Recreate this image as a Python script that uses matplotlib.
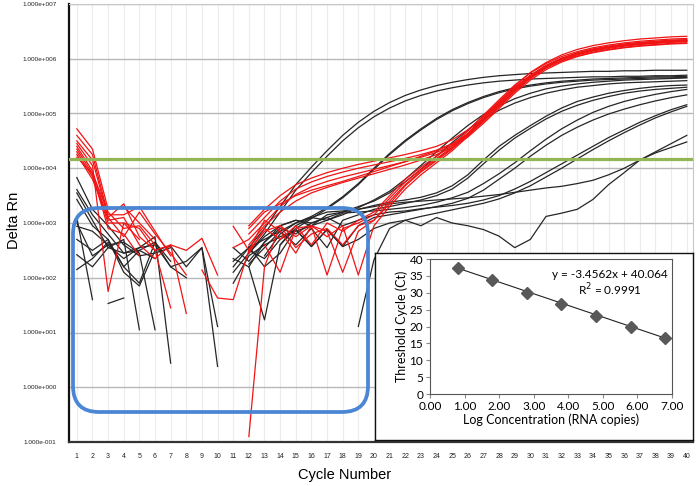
import numpy as np
import matplotlib
matplotlib.use('Agg')
import matplotlib.pyplot as plt
from matplotlib.patches import FancyBboxPatch
from matplotlib.transforms import IdentityTransform

nan = np.nan
cycles = list(range(1, 41))

# log10(Delta Rn) per cycle -- black: standards, red: samples
black_curves = [
    [3.83, 3.25, 2.95, 2.60, 2.40, 2.45, 2.55, nan, nan, nan,
     2.20, 2.55, 2.90, 3.30, 3.70, 4.02, 4.32, 4.60, 4.84, 5.04,
     5.20, 5.33, 5.43, 5.51, 5.57, 5.62, 5.66, 5.69, 5.71, 5.73,
     5.74, 5.75, 5.76, 5.77, 5.77, 5.78, 5.78, 5.79, 5.79, 5.79],
    [3.61, 3.15, 2.80, 2.45, 2.50, 2.35, nan, nan, nan, nan,
     2.10, 2.45, 2.80, 3.20, 3.60, 3.92, 4.22, 4.50, 4.74, 4.94,
     5.10, 5.23, 5.33, 5.41, 5.47, 5.52, 5.56, 5.59, 5.61, 5.63,
     5.64, 5.65, 5.66, 5.67, 5.67, 5.68, 5.68, 5.69, 5.69, 5.70],
    [3.55, 3.05, 2.55, 2.70, 1.05, nan, nan, nan, nan, nan,
     2.30, 2.55, 2.70, 2.85, 3.00, 3.12, 3.28, 3.48, 3.72, 4.00,
     4.27, 4.51, 4.72, 4.91, 5.07, 5.20, 5.31, 5.40, 5.47, 5.52,
     5.56, 5.59, 5.61, 5.63, 5.64, 5.65, 5.66, 5.67, 5.67, 5.68],
    [3.43, 2.95, 2.70, 2.20, 2.50, 2.65, 2.20, 2.00, nan, nan,
     nan, 2.20, 1.23, 2.60, 2.90, 3.08, 3.26, 3.46, 3.70, 3.98,
     4.25, 4.49, 4.70, 4.89, 5.05, 5.18, 5.29, 5.38, 5.45, 5.50,
     5.54, 5.57, 5.59, 5.61, 5.62, 5.63, 5.64, 5.65, 5.65, 5.66],
    [3.00, 2.40, 2.60, 2.65, 2.45, 1.05, nan, nan, nan, nan,
     1.90, 2.40, 2.60, 2.75, 2.85, 2.95, 3.05, 3.15, 3.28, 3.42,
     3.58, 3.80, 4.05, 4.30, 4.55, 4.78, 4.98, 5.14, 5.27, 5.37,
     5.45, 5.50, 5.54, 5.57, 5.59, 5.61, 5.62, 5.63, 5.64, 5.65],
    [2.94, 2.85, 2.60, 2.35, 2.55, 2.75, 0.44, nan, nan, nan,
     2.35, 2.20, 2.65, 2.90, 2.80, 3.00, 3.10, 3.20, 3.30, 3.40,
     3.55, 3.75, 3.98, 4.22, 4.47, 4.70, 4.90, 5.06, 5.19, 5.29,
     5.37, 5.43, 5.48, 5.51, 5.54, 5.56, 5.57, 5.58, 5.59, 5.60],
    [2.70, 2.50, 2.70, 2.10, 1.85, 2.50, 2.58, 2.20, 2.55, 1.11,
     nan, 2.45, 2.75, 2.95, 3.05, 2.95, 3.15, 3.20, 3.25, 3.32,
     3.38, 3.42, 3.47, 3.55, 3.68, 3.88, 4.15, 4.40, 4.60, 4.78,
     4.95, 5.10, 5.22, 5.30, 5.37, 5.42, 5.46, 5.49, 5.51, 5.52],
    [2.42, 2.20, 2.55, 2.45, 2.55, 2.60, 2.20, 2.30, 2.55, 0.38,
     nan, 2.25, 2.55, 2.85, 2.60, 2.90, 2.55, 3.05, 3.15, 3.25,
     3.30, 3.36, 3.42, 3.50, 3.62, 3.82, 4.08, 4.33, 4.55, 4.73,
     4.90, 5.04, 5.15, 5.24, 5.31, 5.37, 5.41, 5.44, 5.46, 5.48],
    [2.15, 2.35, 2.65, 2.20, 1.90, 2.65, 2.30, nan, nan, nan,
     nan, 2.50, 2.35, 2.70, 2.88, 2.57, 2.88, 2.57, 2.95, 3.10,
     3.15, 3.20, 3.25, 3.30, 3.36, 3.45, 3.60, 3.80, 4.00, 4.22,
     4.42, 4.60, 4.75, 4.88, 4.99, 5.08, 5.16, 5.23, 5.29, 5.34],
    [3.10, 1.60, nan, nan, nan, nan, nan, nan, nan, nan,
     nan, nan, 2.40, 2.80, 3.00, 3.10, 3.05, 3.18, 3.20, 3.22,
     3.25, 3.28, 3.32, 3.38, 3.46, 3.56, 3.72, 3.90, 4.10, 4.32,
     4.53, 4.72, 4.88, 5.02, 5.13, 5.22, 5.29, 5.35, 5.40, 5.44],
    [nan, nan, 1.53, 1.63, nan, nan, nan, nan, nan, nan,
     2.55, 2.30, 2.65, 2.95, 3.05, 3.00, 3.10, 2.95, 3.05, 3.15,
     3.20, 3.22, 3.26, 3.29, 3.32, 3.36, 3.42, 3.50, 3.62, 3.76,
     3.92, 4.08, 4.24, 4.40, 4.56, 4.70, 4.84, 4.96, 5.07, 5.16],
    [nan, nan, nan, nan, nan, nan, nan, nan, nan, nan,
     nan, 2.57, 2.20, 2.45, 2.88, 2.57, 2.88, 2.57, 2.70, 2.90,
     3.00, 3.05, 3.12, 3.18, 3.24, 3.30, 3.36, 3.44, 3.55, 3.68,
     3.84, 4.00, 4.17, 4.34, 4.50, 4.65, 4.79, 4.92, 5.03, 5.13],
    [nan, nan, nan, nan, nan, nan, nan, nan, nan, nan,
     nan, nan, nan, 2.60, 2.95, 3.10, 3.20, 3.22, 3.25, 3.30,
     3.35, 3.38, 3.40, 3.42, 3.44, 3.46, 3.49, 3.52, 3.56, 3.60,
     3.64, 3.67, 3.72, 3.78, 3.88, 4.00, 4.15, 4.30, 4.45, 4.60],
    [nan, nan, nan, nan, nan, nan, nan, nan, nan, nan,
     nan, nan, nan, nan, nan, nan, nan, nan, 1.11, 2.33,
     2.90, 3.05, 2.95, 3.10, 3.00, 2.95, 2.88, 2.76, 2.55, 2.70,
     3.12, 3.18, 3.25, 3.43, 3.70, 3.92, 4.15, 4.28, 4.38, 4.48],
]

red_curves = [
    [4.72, 4.35, 3.25, 3.30, 3.00, 2.70, nan, nan, nan, nan,
     nan, 2.95, 3.25, 3.50, 3.70, 3.82, 3.92, 4.00, 4.07, 4.13,
     4.19, 4.25, 4.32, 4.40, 4.52, 4.70, 4.95, 5.22, 5.50, 5.75,
     5.93, 6.07, 6.17, 6.24, 6.29, 6.33, 6.36, 6.38, 6.40, 6.41],
    [4.60, 4.25, 3.15, 3.15, 3.30, 2.85, 2.40, nan, nan, nan,
     nan, 2.80, 3.10, 3.40, 3.62, 3.75, 3.85, 3.93, 4.00, 4.06,
     4.12, 4.18, 4.25, 4.33, 4.45, 4.63, 4.88, 5.15, 5.43, 5.68,
     5.87, 6.01, 6.11, 6.18, 6.23, 6.27, 6.30, 6.32, 6.34, 6.35],
    [4.50, 4.15, 3.10, 2.75, 3.20, 2.80, 2.45, 2.05, nan, nan,
     2.55, 2.70, 3.00, 3.30, 3.52, 3.66, 3.76, 3.84, 3.91, 3.98,
     4.05, 4.12, 4.20, 4.29, 4.41, 4.60, 4.85, 5.12, 5.40, 5.64,
     5.83, 5.97, 6.07, 6.14, 6.19, 6.23, 6.26, 6.28, 6.30, 6.31],
    [4.45, 4.05, 1.75, 3.00, 2.90, 2.50, 1.45, nan, nan, nan,
     nan, 2.60, 2.95, 3.20, 3.40, 3.55, 3.65, 3.74, 3.82, 3.90,
     3.98, 4.06, 4.15, 4.25, 4.38, 4.57, 4.82, 5.09, 5.37, 5.61,
     5.80, 5.94, 6.04, 6.11, 6.16, 6.20, 6.23, 6.25, 6.27, 6.28],
    [4.40, 3.95, 3.05, 3.10, 2.60, 2.35, 2.60, 1.35, nan, nan,
     nan, 2.90, 3.20, 3.35, 3.50, 3.60, 3.68, 3.76, 3.85, 3.94,
     4.03, 4.12, 4.22, 4.32, 4.44, 4.62, 4.86, 5.13, 5.41, 5.66,
     5.85, 5.99, 6.09, 6.16, 6.21, 6.25, 6.28, 6.30, 6.32, 6.33],
    [4.35, 3.90, 3.20, 2.90, 2.95, 2.60, nan, nan, nan, nan,
     nan, 2.45, 2.90, 2.70, 2.95, 2.60, 3.00, 2.85, 3.05, 3.20,
     3.50, 3.80, 4.02, 4.22, 4.42, 4.68, 4.97, 5.25, 5.52, 5.74,
     5.91, 6.04, 6.13, 6.20, 6.25, 6.29, 6.32, 6.34, 6.36, 6.37],
    [4.30, 3.85, 3.00, 3.00, 2.70, nan, nan, nan, nan, nan,
     nan, -0.90, 2.20, 2.95, 2.75, 2.95, 2.05, 2.90, 3.00, 3.15,
     3.45, 3.75, 3.98, 4.18, 4.38, 4.64, 4.93, 5.21, 5.48, 5.70,
     5.88, 6.01, 6.10, 6.17, 6.22, 6.26, 6.29, 6.31, 6.33, 6.34],
    [4.25, 3.80, 3.10, 3.35, 2.75, 2.50, 2.60, 2.50, 2.72, 2.05,
     nan, nan, 2.60, 2.10, 2.90, 2.95, 2.85, 2.10, 2.85, 3.05,
     3.35, 3.68, 3.93, 4.14, 4.35, 4.61, 4.90, 5.18, 5.45, 5.68,
     5.86, 5.99, 6.08, 6.15, 6.20, 6.24, 6.27, 6.29, 6.31, 6.32],
    [4.20, 3.90, 2.90, 2.80, 2.40, nan, nan, nan, nan, nan,
     2.94, 2.50, 3.05, 2.85, 2.45, 2.95, 2.75, 2.95, 2.05, 2.95,
     3.30, 3.62, 3.88, 4.10, 4.32, 4.58, 4.87, 5.15, 5.42, 5.65,
     5.83, 5.96, 6.05, 6.12, 6.17, 6.21, 6.24, 6.26, 6.28, 6.29],
    [nan, nan, nan, nan, nan, nan, nan, nan, 2.14, 1.63,
     1.60, 2.50, 2.85, 2.95, 2.55, 2.80, 2.90, 2.60, 2.95, 3.05,
     3.40, 3.70, 3.95, 4.16, 4.37, 4.62, 4.91, 5.19, 5.46, 5.69,
     5.87, 6.00, 6.09, 6.16, 6.21, 6.25, 6.28, 6.30, 6.32, 6.33],
]

threshold = 1.5e4
y_ticks = [1e-1, 1e0, 1e1, 1e2, 1e3, 1e4, 1e5, 1e6, 1e7]
y_tick_labels = ['1.000e-001', '1.000e+000', '1.000e+001', '1.000e+002',
                 '1.000e+003', '1.000e+004', '1.000e+005', '1.000e+006',
                 '1.000e+007']

# standard curve
log_conc = [0.8, 1.8, 2.8, 3.8, 4.8, 5.8, 6.8]
ct_values = [37.3, 33.7, 30.0, 26.8, 23.2, 20.0, 16.5]
slope, intercept = -3.4562, 40.064
r_squared = 0.9991

W, H = 696, 486
fig = plt.figure(figsize=(W / 100, H / 100), dpi=100)
plt.rcParams['font.family'] = ['Liberation Sans', 'DejaVu Sans']

ax = fig.add_axes([69 / W, 44 / H, 624 / W, 438 / H])
for vals in black_curves:
    ax.plot(cycles, 10 ** np.array(vals), color='#262626', lw=0.9, zorder=2)
for vals in red_curves:
    ax.plot(cycles, 10 ** np.array(vals), color='#f01414', lw=0.9, zorder=3)
ax.axhline(threshold, color='#92b556', lw=2.3, zorder=4)

ax.set_yscale('log')
ax.set_ylim(1e-1, 1e7)
ax.set_xlim(0.5, 40.4)
ax.set_yticks(y_ticks)
ax.set_yticklabels(y_tick_labels)
ax.minorticks_off()
ax.set_xticks(cycles)
ax.tick_params(axis='both', length=0, labelsize=5.0, colors='#222222')
ax.tick_params(axis='y', labelsize=4.6, pad=9)
ax.tick_params(axis='x', pad=8)
for c in cycles:
    ax.axvline(c, color='#ececec', lw=0.8, zorder=0)
for t in y_ticks[1:]:
    ax.axhline(t, color='#b8b8b8', lw=1.0, zorder=1)
ax.spines['left'].set_color('#111111')
ax.spines['left'].set_linewidth(1.6)
ax.spines['bottom'].set_color('#333333')
ax.spines['bottom'].set_linewidth(1.6)
ax.spines['top'].set_color('#c8c8c8')
ax.spines['right'].set_color('#c8c8c8')
ax.set_ylabel('Delta Rn', fontsize=10.5)
ax.yaxis.set_label_coords(-48 / 624, 0.505)
ax.set_xlabel('Cycle Number', fontsize=10.5)
ax.xaxis.set_label_coords((345 - 69) / 624, -26 / 438)

# blue rounded box (pixel coordinates)
box = FancyBboxPatch((73, H - 412), 295, 204,
                     boxstyle='round,pad=0,rounding_size=26',
                     transform=IdentityTransform(), fill=False,
                     edgecolor='#4a86d4', lw=2.7, zorder=5)
fig.add_artist(box)

# inset frame
frame = fig.add_axes([375 / W, 46 / H, 318 / W, 187 / H])
frame.set_xticks([])
frame.set_yticks([])
for s in frame.spines.values():
    s.set_color('#111111')
    s.set_linewidth(1.0)

inset_font = ['Lato', 'DejaVu Sans']
ins = fig.add_axes([430 / W, 92 / H, 242 / W, 135 / H])
ins.plot(log_conc, ct_values, linestyle='none', marker='D', markersize=6.5,
         color='#595959', zorder=3)
fit_y = [slope * x + intercept for x in log_conc]
ins.plot(log_conc, fit_y, color='#222222', lw=0.8, zorder=2)
ins.set_xlim(0, 7)
ins.set_ylim(0, 40)
ins.set_xticks(range(0, 8))
ins.set_xticklabels(['%.2f' % v for v in range(0, 8)], family=inset_font)
ins.set_yticks(range(0, 41, 5))
ins.set_yticklabels([str(v) for v in range(0, 41, 5)], family=inset_font)
ins.tick_params(labelsize=8.5, length=3, color='#888888', pad=2)
for s in ins.spines.values():
    s.set_color('#555555')
    s.set_linewidth(0.8)
ins.set_xlabel('Log Concentration (RNA copies)', fontsize=9, family=inset_font,
               labelpad=1)
ins.set_ylabel('Threshold Cycle (Ct)', fontsize=9, family=inset_font,
               labelpad=1)
ins.text(0.745, 0.885, 'y = %.4fx + %.3f' % (slope, intercept),
         transform=ins.transAxes, ha='center', va='center', fontsize=8.5,
         family=inset_font)
ins.text(0.745, 0.77, 'R$^2$ = %.4f' % r_squared, transform=ins.transAxes,
         ha='center', va='center', fontsize=8.5, family=inset_font)

fig.savefig('out.png', dpi=100)
